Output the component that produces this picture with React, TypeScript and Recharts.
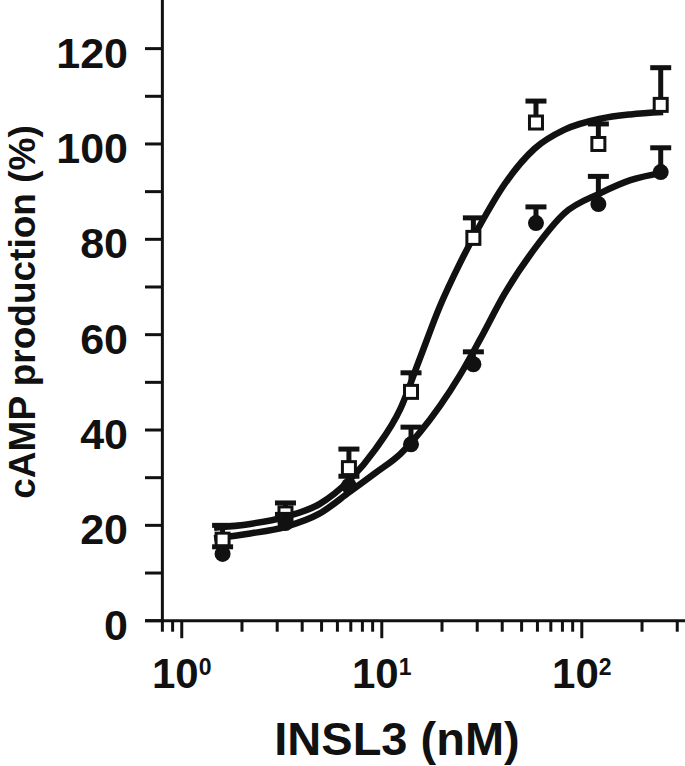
import React from "react";
import { ComposedChart, XAxis, YAxis, Line, Scatter, ErrorBar, ReferenceLine } from "recharts";

// INSL3 dose (nM) for the measured points
const doses = [1.6, 3.3, 6.85, 14, 28.7, 59, 121, 248];
// open squares
const squareMeans = [17, 22.5, 32, 48, 80.3, 104.5, 100, 108.2];
const squareErrs = [3, 2.2, 4, 4, 4.2, 4.5, 4.2, 7.8];
// filled circles
const circleMeans = [14, 20.5, 28.3, 37, 53.8, 83.4, 87.4, 94.1];
const circleErrs = [1.5, 1.8, 2, 3.6, 2.6, 3.4, 5.8, 5.1];

// fitted curves
const curveDoses = [1.45, 2.2, 3.3, 4.9, 6.9, 9.3, 12.4, 15.5, 19.5, 24.6, 31, 41, 58, 82, 124, 175, 255];
const squareFit = [19.5, 20.3, 21.8, 24.5, 29.5, 36, 44.5, 55, 65.9, 75, 83, 91.5, 99, 103, 105.3, 106.2, 106.7];
const circleFit = [17.3, 18.3, 19.7, 22.5, 27, 31, 35, 39.5, 45, 51.5, 59, 68.5, 78, 85.5, 89.7, 92.4, 94];

const xTicks = [0.8, 0.9, 1, 2, 3, 4, 5, 6, 7, 8, 9, 10, 20, 30, 40, 50, 60, 70, 80, 90, 100, 200, 300];
const xMajor = [1, 10, 100];
const yTicks = [0, 10, 20, 30, 40, 50, 60, 70, 80, 90, 100, 110, 120];
const yLabelled = [0, 20, 40, 60, 80, 100, 120];

const FONT = '"Liberation Sans", Arial, sans-serif';
const INK = "#111";

const squarePts = doses.map((x, i) => ({ x, y: squareMeans[i], err: [0, squareErrs[i]] }));
const circlePts = doses.map((x, i) => ({ x, y: circleMeans[i], err: [0, circleErrs[i]] }));
const caps = doses
  .map((x, i) => ({ x, y: squareMeans[i] + squareErrs[i] }))
  .concat(doses.map((x, i) => ({ x, y: circleMeans[i] + circleErrs[i] })));
const squareCurve = curveDoses.map((x, i) => ({ x, y: squareFit[i] }));
const circleCurve = curveDoses.map((x, i) => ({ x, y: circleFit[i] }));

function XTick(props: any) {
  const { x, y, payload } = props;
  const v = payload.value;
  const major = xMajor.includes(v);
  return (
    <g>
      <line x1={x} x2={x} y1={y} y2={y + (major ? 17.5 : 11)} stroke={INK} strokeWidth={3} />
      {major && (
        <text x={x} y={y + 67} textAnchor="middle" fontFamily={FONT} fontWeight="bold" fontSize={42} fill={INK}>
          10
          <tspan dy={-13} fontSize={23}>{Math.round(Math.log10(v))}</tspan>
        </text>
      )}
    </g>
  );
}

function YTick(props: any) {
  const { x, y, payload } = props;
  return (
    <g>
      <line x1={x} x2={x + 17.7} y1={y} y2={y} stroke={INK} strokeWidth={3} />
      {yLabelled.includes(payload.value) && (
        <text x={x - 17} y={y + 19} textAnchor="end" fontFamily={FONT} fontWeight="bold" fontSize={43} fill={INK}>
          {payload.value}
        </text>
      )}
    </g>
  );
}

function XTitle() {
  return (
    <text x={397} y={755} textAnchor="middle" fontFamily={FONT} fontWeight="bold" fontSize={47} fill={INK}>
      INSL3 (nM)
    </text>
  );
}

function YTitle() {
  return (
    <text x={0} y={0} transform="translate(35 312) rotate(-90)" textAnchor="middle" fontFamily={FONT} fontWeight="bold" fontSize={37} fill={INK}>
      cAMP production (%)
    </text>
  );
}

const SquareMark = (p: any) => (
  <rect x={p.cx - 6.5} y={p.cy - 6.5} width={13} height={13} fill="#fff" stroke={INK} strokeWidth={3} />
);
const CircleMark = (p: any) => <circle cx={p.cx} cy={p.cy} r={8} fill={INK} />;
const CapMark = (p: any) => <rect x={p.cx - 10.5} y={p.cy - 2.5} width={21} height={5} fill={INK} />;

export default function App() {
  return (
    <div style={{ position: "absolute", left: 0, top: 0, background: "#fff" }}>
      <ComposedChart width={685} height={766} margin={{ top: 0, right: 0, bottom: 0, left: 0 }}>
        <XAxis
          dataKey="x"
          type="number"
          scale="log"
          domain={[0.655, 328]}
          allowDataOverflow
          ticks={xTicks}
          interval={0}
          tick={<XTick />}
          tickLine={false}
          tickSize={0}
          tickMargin={0}
          height={145.3}
          axisLine={{ stroke: INK, strokeWidth: 3 }}
          label={<XTitle />}
        />
        <YAxis
          type="number"
          domain={[0, 130.2]}
          allowDataOverflow
          ticks={yTicks}
          interval={0}
          width={145}
          axisLine={false}
          tickLine={false}
          tickSize={0}
          tickMargin={0}
          tick={<YTick />}
          label={<YTitle />}
        />
        <ReferenceLine x={0.8} stroke={INK} strokeWidth={3} />
        <Scatter data={squarePts} dataKey="y" shape={SquareMark} isAnimationActive={false}>
          <ErrorBar dataKey="err" direction="y" width={0} stroke={INK} strokeWidth={5} isAnimationActive={false} />
        </Scatter>
        <Scatter data={circlePts} dataKey="y" shape={CircleMark} isAnimationActive={false}>
          <ErrorBar dataKey="err" direction="y" width={0} stroke={INK} strokeWidth={5} isAnimationActive={false} />
        </Scatter>
        <Line data={squareCurve} dataKey="y" type="monotone" stroke={INK} strokeWidth={6.5} dot={false} isAnimationActive={false} />
        <Line data={circleCurve} dataKey="y" type="monotone" stroke={INK} strokeWidth={6.5} dot={false} isAnimationActive={false} />
        <Scatter data={caps} dataKey="y" shape={CapMark} isAnimationActive={false} />
      </ComposedChart>
    </div>
  );
}
